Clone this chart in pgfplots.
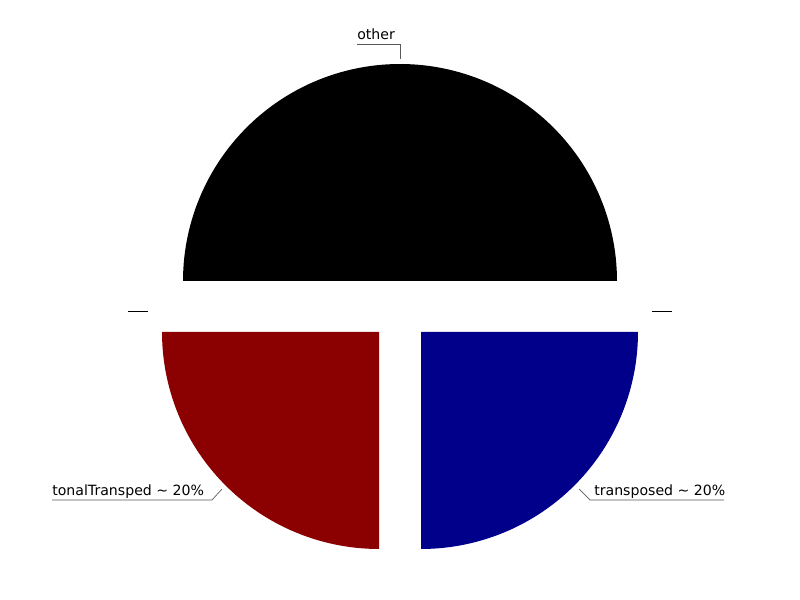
\documentclass[border=0pt]{standalone}
\usepackage{fontspec}
\setmainfont{DejaVu Sans}
\usepackage{pgfplots}
\usepackage{pgfplotstable}
\pgfplotsset{compat=1.18}
\definecolor{sliceRed}{HTML}{8B0000}
\definecolor{sliceBlue}{HTML}{00008B}
% slice values (percent) and explode centres in pixel coordinates
\pgfplotstableread{
name value cx cy
other 50 400 319
tonalTransped 25 379 268
transposed 25 421 268
}\piedata
\begin{document}
\begin{tikzpicture}
\pgfplotstablegetelem{0}{value}\of\piedata \let\vA\pgfplotsretval
\pgfplotstablegetelem{1}{value}\of\piedata \let\vB\pgfplotsretval
\pgfplotstablegetelem{2}{value}\of\piedata \let\vC\pgfplotsretval
\pgfmathsetmacro{\aA}{3.6*\vA}
\pgfmathsetmacro{\aB}{\aA+3.6*\vB}
\pgfmathsetmacro{\aC}{\aB+3.6*\vC}
\begin{axis}[
  width=8in, height=6in, scale only axis,
  xmin=0, xmax=800, ymin=0, ymax=600,
  hide axis, clip=false,
]
\path (axis cs:0,0) rectangle (axis cs:800,600);
\def\R{217}
\addplot[fill=black, draw=none, domain=0:\aA, samples=120, variable=\t]
  ({400+\R*cos(t)},{319+\R*sin(t)}) -- (axis cs:400,319) -- cycle;
\addplot[fill=sliceRed, draw=none, domain=\aA:\aB, samples=80, variable=\t]
  ({379+\R*cos(t)},{268+\R*sin(t)}) -- (axis cs:379,268) -- cycle;
\addplot[fill=sliceBlue, draw=none, domain=\aB:\aC, samples=80, variable=\t]
  ({421+\R*cos(t)},{268+\R*sin(t)}) -- (axis cs:421,268) -- cycle;
% leader lines
\draw[gray!70!black, line width=0.5pt] (axis cs:357,556) -- (axis cs:400,556) -- (axis cs:400,541);
\draw[gray!70!black, line width=0.5pt] (axis cs:52,100) -- (axis cs:212,100) -- (axis cs:222,111);
\draw[gray!70!black, line width=0.5pt] (axis cs:579,111) -- (axis cs:590,100) -- (axis cs:724,100);
\draw[black, line width=0.6pt] (axis cs:128,289) -- (axis cs:148,289);
\draw[black, line width=0.6pt] (axis cs:652,289) -- (axis cs:672,289);
% labels
\node[anchor=base west, inner sep=0pt, font=\fontsize{10.2}{12}\selectfont] at (axis cs:357,560) {other};
\node[anchor=base west, inner sep=0pt, font=\fontsize{10.2}{12}\selectfont] at (axis cs:52,104) {tonalTransped \textasciitilde{} 20\%};
\node[anchor=base west, inner sep=0pt, font=\fontsize{10.2}{12}\selectfont] at (axis cs:594,104) {transposed \textasciitilde{} 20\%};
\end{axis}
\end{tikzpicture}
\end{document}
